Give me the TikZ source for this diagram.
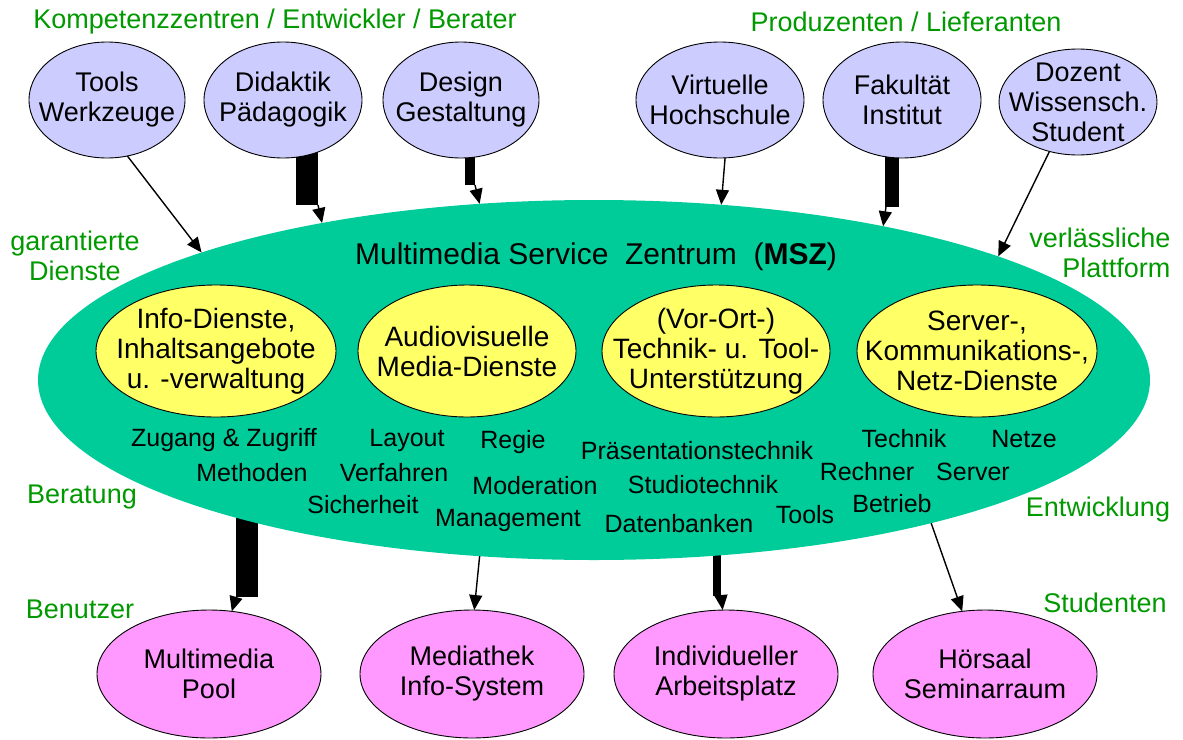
\documentclass[tikz,border=0pt]{standalone}
\usepackage{fontspec}
\setmainfont{Liberation Sans}
\usetikzlibrary{arrows.meta,shapes.geometric,backgrounds}

\definecolor{blobblue}{RGB}{204,204,255}
\definecolor{mszgreen}{RGB}{0,204,153}
\definecolor{svcyellow}{RGB}{255,255,102}
\definecolor{userpink}{RGB}{255,153,255}
\definecolor{labelgreen}{RGB}{0,153,0}

\begin{document}
\begin{tikzpicture}[x=1pt, y=-1pt, >={Triangle[length=15pt,width=13pt]},
  blob/.style={ellipse, draw, line width=0.9pt, inner sep=-40pt, outer sep=0pt, align=center, font=\fontsize{27}{30}\selectfont},
  side/.style={text=labelgreen, align=center, font=\fontsize{27}{30}\selectfont},
  task/.style={font=\fontsize{25}{28}\selectfont},
  feed/.style={->, line width=1.4pt},
  fatbar/.style={line width=#1}]
\useasboundingbox (0,0) rectangle (1183,739);

\node[ellipse, fill=mszgreen, inner sep=0pt, outer sep=0pt, minimum width=1112pt, minimum height=360pt] (msz) at (594,380) {};
\node[font=\fontsize{30}{34}\selectfont] (title) at (596,257) {Multimedia Service\ \ Zentrum\ \ (\textbf{MSZ})};

\node[blob, fill=blobblue, minimum width=156pt, minimum height=116pt] (tools) at (107,100) {Tools\\Werkzeuge};
\node[blob, fill=blobblue, minimum width=158pt, minimum height=116pt] (didak) at (283,100) {Didaktik\\Pädagogik};
\node[blob, fill=blobblue, minimum width=156pt, minimum height=116pt] (design) at (461,100) {Design\\Gestaltung};
\node[blob, fill=blobblue, minimum width=168pt, minimum height=116pt] (virt) at (720,100) {Virtuelle\\Hochschule};
\node[blob, fill=blobblue, minimum width=158pt, minimum height=116pt] (fak) at (902,100) {Fakultät\\Institut};
\node[blob, fill=blobblue, minimum width=158pt, minimum height=106pt] (doz) at (1078,102) {Dozent\\Wissensch.\\Student};

\node[blob, fill=svcyellow, minimum width=240pt, minimum height=132pt, font=\fontsize{28}{30}\selectfont] (info) at (216,351) {Info-Dienste,\\Inhaltsangebote\\u. -verwaltung};
\node[blob, fill=svcyellow, minimum width=218pt, minimum height=132pt, font=\fontsize{28}{30}\selectfont] (audio) at (467,351) {Audiovisuelle\\Media-Dienste};
\node[blob, fill=svcyellow, minimum width=228pt, minimum height=132pt, font=\fontsize{28}{30}\selectfont] (vorort) at (716,351) {(Vor-Ort-)\\Technik- u. Tool-\\Unterstützung};
\node[blob, fill=svcyellow, minimum width=240pt, minimum height=132pt, font=\fontsize{28}{30}\selectfont] (netz) at (977,351) {Server-,\\Kommunikations-,\\Netz-Dienste};

\node[blob, fill=userpink, minimum width=224pt, minimum height=128pt] (pool) at (209,674) {Multimedia\\Pool};
\node[blob, fill=userpink, minimum width=224pt, minimum height=128pt] (medien) at (472,674) {Mediathek\\Info-System};
\node[blob, fill=userpink, minimum width=224pt, minimum height=128pt] (platz) at (726,674) {Individueller\\Arbeitsplatz};
\node[blob, fill=userpink, minimum width=224pt, minimum height=128pt] (hoersaal) at (985,674) {Hörsaal\\Seminarraum};

\node[task] (zugang) at (224,440) {Zugang \& Zugriff};
\node[task] (methoden) at (252,473) {Methoden};
\node[task] (layout) at (407,440) {Layout};
\node[task] (regie) at (513,442) {Regie};
\node[task] (verfahren) at (394,473) {Verfahren};
\node[task] (moderation) at (535,486) {Moderation};
\node[task] (sicherheit) at (363,505) {Sicherheit};
\node[task] (management) at (508,520) {Management};
\node[task] (praes) at (697,451) {Präsentationstechnik};
\node[task] (studio) at (703,485) {Studiotechnik};
\node[task] (datenbank) at (679,524) {Datenbanken};
\node[task] (toolsi) at (805,515) {Tools};
\node[task] (technik) at (904,439) {Technik};
\node[task] (netze) at (1024,439) {Netze};
\node[task] (rechner) at (867,472) {Rechner};
\node[task] (server) at (973,472) {Server};
\node[task] (betrieb) at (892,504) {Betrieb};

\node[side] (kompetenz) at (275,22) {Kompetenzzentren / Entwickler / Berater};
\node[side] (produzenten) at (906,22) {Produzenten / Lieferanten};
\node[side] (garantiert) at (75,256) {garantierte\\Dienste};
\node[side, anchor=east, align=right] (verlass) at (1174,253) {verlässliche\\Plattform};
\node[side] (beratung) at (82,497) {Beratung};
\node[side] (entwicklung) at (1098,510) {Entwicklung};
\node[side] (benutzer) at (80,609) {Benutzer};
\node[side] (studenten) at (1105,603) {Studenten};

\coordinate (dk1) at (307,205);
\coordinate (dk2) at (318,205);
\coordinate (ds1) at (470,185);
\coordinate (ds2) at (475,185);
\coordinate (fk1) at (892,207);
\coordinate (fk2) at (886,207);
\coordinate (pl1) at (247,597);
\coordinate (pl2) at (236,597);
\coordinate (ap1) at (717,596);
\coordinate (ap2) at (721,595);

\begin{pgfonlayer}{background}
\draw[fatbar=22pt] (didak.center -| dk1) -- (dk1);
\draw[fatbar=10pt] (design.center -| ds1) -- (ds1);
\draw[fatbar=14pt] (fak.center -| fk1) -- (fk1);
\draw[fatbar=22pt] (msz.center -| pl1) -- (pl1);
\draw[fatbar=8pt] (msz.center -| ap1) -- (ap1);
\end{pgfonlayer}

\draw[feed] (dk2) -- (msz.150);
\draw[feed] (ds2) -- (msz.123);
\draw[feed] (fk2) -- (msz.28);
\draw[feed] (pl2) -- (pool.70);
\draw[feed] (ap2) -- (platz.93);

\draw[feed] (tools.-70) -- (msz.162);
\draw[feed] (virt.-85) -- (msz.54);
\draw[feed] (doz.-120) -- (msz.17);
\draw[feed] (msz.-123) -- (medien.88);
\draw[feed] (msz.-23) -- (hoersaal.110);
\end{tikzpicture}
\end{document}
